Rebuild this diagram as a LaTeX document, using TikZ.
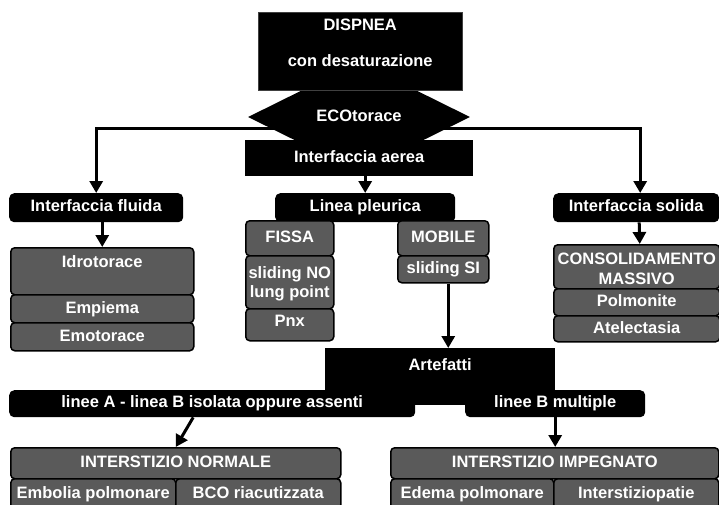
\documentclass[tikz,border=0pt]{standalone}
\usepackage{fontspec}
\setmainfont{Liberation Sans}
\usepackage{tikz}
\usetikzlibrary{shapes.geometric}
\usetikzlibrary{arrows.meta}
\usetikzlibrary{backgrounds}

\definecolor{boxgray}{HTML}{5A5A5A}

\begin{document}
\begin{tikzpicture}[x=1pt,y=-1pt,
  every node/.style={font=\fontsize{16.5}{18}\selectfont\bfseries,text=white,inner sep=0pt,
    text height=12pt,text depth=3.5pt,anchor=north west},
  blackbox/.style={fill=black,rounded corners=5pt},
  graybox/.style={fill=boxgray,draw=black,line width=1.5pt,rounded corners=4pt},
  arr/.style={line width=3pt,-{Triangle[length=12pt,width=13pt]}}]

\useasboundingbox (0,0) rectangle (719,504);

\node[diamond,fill=black,anchor=center,minimum width=222pt,minimum height=110pt] (eco) at (359,117) {ECOtorace};
\node[fill=black,draw=black!75,minimum width=204pt,minimum height=78pt,align=center,text height=48pt,text depth=16.5pt] (dispnea) at (258,12) {DISPNEA\\[18pt]con desaturazione};
\node[fill=black,minimum width=228pt,minimum height=36pt] (aerea) at (245,140) {Interfaccia aerea};

\node[blackbox,minimum width=174pt,minimum height=29pt] (fluida) at (9,193) {Interfaccia fluida};
\node[blackbox,minimum width=180pt,minimum height=29pt] (pleurica) at (275,193) {Linea pleurica};
\node[blackbox,minimum width=166pt,minimum height=29pt] (solida) at (553,193) {Interfaccia solida};

\node[graybox,minimum width=183pt,minimum height=47pt,text depth=19.5pt] (idro) at (10,247) {Idrotorace};
\node[graybox,minimum width=183pt,minimum height=28pt] (empiema) at (10,294) {Empiema};
\node[graybox,minimum width=183pt,minimum height=28pt] (emotorace) at (10,322) {Emotorace};

\node[graybox,minimum width=88pt,minimum height=35pt] (fissa) at (245,220) {FISSA};
\node[graybox,minimum width=88pt,minimum height=53pt,align=center,text height=34pt,text depth=3.5pt] (slidingno) at (245,255) {sliding NO\\[1pt]lung point};
\node[graybox,minimum width=88pt,minimum height=32pt,text depth=8.5pt] (pnx) at (245,308) {Pnx};
\node[graybox,minimum width=91pt,minimum height=35pt] (mobile) at (397,220) {MOBILE};
\node[graybox,minimum width=91pt,minimum height=27pt] (slidingsi) at (397,255) {sliding SI};

\node[graybox,minimum width=166pt,minimum height=44pt,align=center,text height=35.5pt,text depth=0pt] (consol) at (553,244) {CONSOLIDAMENTO\\[2pt]MASSIVO};
\node[graybox,minimum width=166pt,minimum height=27pt] (polmonite) at (553,288) {Polmonite};
\node[graybox,minimum width=166pt,minimum height=26pt] (atelectasia) at (553,315) {Atelectasia};

\node[fill=black,minimum width=230pt,minimum height=57pt,text depth=23.5pt] (artefatti) at (325,348) {Artefatti};
\node[blackbox,minimum width=406pt,minimum height=27pt] (lineea) at (9,390) {linee A - linea B isolata oppure assenti};
\node[blackbox,minimum width=180pt,minimum height=27pt] (lineeb) at (465,390) {linee B multiple};

\node[graybox,minimum width=330pt,minimum height=31pt] (normale) at (10,447) {INTERSTIZIO NORMALE};
\node[graybox,minimum width=165pt,minimum height=30pt] (embolia) at (10,478) {Embolia polmonare};
\node[graybox,minimum width=165pt,minimum height=30pt] (bco) at (175,478) {BCO riacutizzata};
\node[graybox,minimum width=328pt,minimum height=31pt] (impegnato) at (390,447) {INTERSTIZIO IMPEGNATO};
\node[graybox,minimum width=163pt,minimum height=30pt] (edema) at (390,478) {Edema polmonare};
\node[graybox,minimum width=165pt,minimum height=30pt] (interstiziopatie) at (553,478) {Interstiziopatie};

\begin{pgfonlayer}{background}
\draw[arr] ([yshift=-11pt]eco.center) -| (fluida.north);
\draw[arr] ([yshift=-11pt]eco.center) -| ([xshift=4pt]solida.north);
\draw[arr] (aerea.south -| pleurica.north) -- (pleurica.north);
\draw[arr] (fluida.south -| idro.north) -- (idro.north);
\draw[arr] ([xshift=3pt]solida.south) -- ([xshift=3pt]consol.north);
\draw[arr] ([xshift=5pt]slidingsi.south) -- ([xshift=5pt]slidingsi.south |- artefatti.north);
\draw[arr] ([xshift=-19pt]lineea.south) -- (normale.north);
\draw[arr] (lineeb.south) -- (lineeb.south |- impegnato.north);
\end{pgfonlayer}

\end{tikzpicture}
\end{document}
